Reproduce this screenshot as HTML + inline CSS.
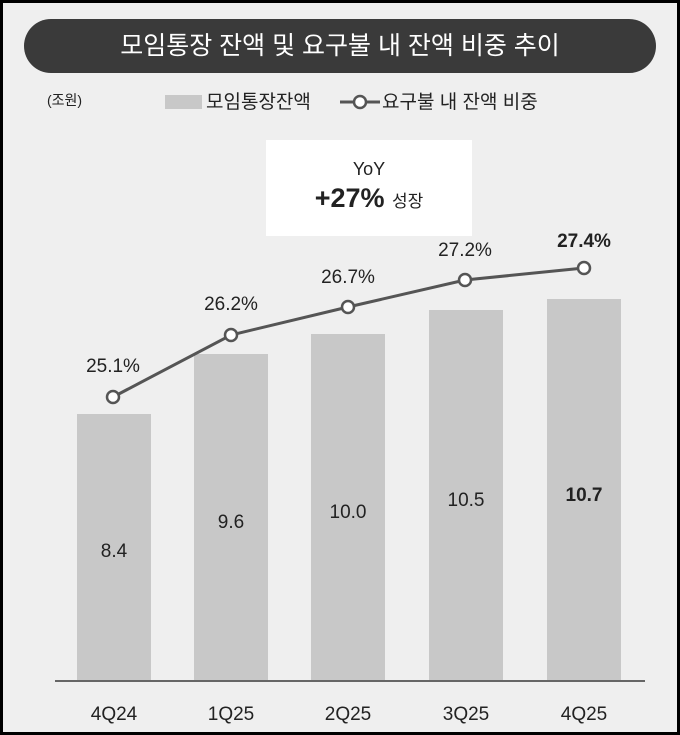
<!DOCTYPE html><html><head><meta charset="utf-8"><style>
body{margin:0;}
.w{position:relative;width:674px;height:729px;border:3px solid #000;background:#efefef;font-family:"Liberation Sans","Noto Sans CJK KR",sans-serif;color:#222;overflow:hidden}
.a{position:absolute;white-space:nowrap}
</style></head><body><div class="w">
<div class="a" style="left:21px;top:16px;width:632px;height:54px;border-radius:27px;background:#3a3a3a;color:#fff;font-size:25px;line-height:54px;text-align:center">모임통장 잔액 및 요구불 내 잔액 비중 추이</div>
<div class="a" style="left:44px;top:87px;font-size:14px">(조원)</div>
<div class="a" style="left:162px;top:92px;width:37px;height:14px;background:#c8c8c8"></div>
<div class="a" style="left:203px;top:84px;font-size:19px">모임통장잔액</div>
<svg class="a" style="left:337px;top:89px" width="40" height="20"><line x1="0" y1="10" x2="40" y2="10" stroke="#555" stroke-width="3"/><circle cx="20" cy="10" r="6" fill="#fff" stroke="#555" stroke-width="2.5"/></svg>
<div class="a" style="left:379px;top:84px;font-size:19px">요구불 내 잔액 비중</div>
<div class="a" style="left:263px;top:137px;width:206px;height:96px;background:#fff"></div>
<div class="a" style="left:263px;top:156px;width:206px;text-align:center;font-size:18px">YoY</div>
<div class="a" style="left:263px;top:180px;width:206px;text-align:center;font-size:27px;font-weight:bold">+27% <span style="font-size:17px;font-weight:normal">성장</span></div>
<svg class="a" style="left:0;top:0" width="674" height="729">
<g fill="#c8c8c8">
<rect x="74" y="411" width="74" height="267"/><rect x="191" y="351" width="74" height="327"/><rect x="308" y="331" width="74" height="347"/><rect x="426" y="307" width="74" height="371"/><rect x="544" y="296" width="74" height="382"/></g>
<line x1="52" y1="678" x2="642" y2="678" stroke="#666" stroke-width="2"/>
<polyline points="110,394 228,332 345,304 462,277 581,265" fill="none" stroke="#555" stroke-width="3"/>
<g fill="#fff" stroke="#555" stroke-width="2.5"><circle cx="110" cy="394" r="6"/><circle cx="228" cy="332" r="6"/><circle cx="345" cy="304" r="6"/><circle cx="462" cy="277" r="6"/><circle cx="581" cy="265" r="6"/></g>
<g font-size="19" text-anchor="middle" fill="#222">
<text x="110" y="369">25.1%</text><text x="228" y="307">26.2%</text><text x="345" y="280">26.7%</text><text x="462" y="253">27.2%</text><text x="581" y="244" font-weight="bold">27.4%</text>
<text x="111" y="554">8.4</text><text x="228" y="525">9.6</text><text x="345" y="515">10.0</text><text x="463" y="503">10.5</text><text x="581" y="498" font-weight="bold">10.7</text>
<text x="111" y="717">4Q24</text><text x="228" y="717">1Q25</text><text x="345" y="717">2Q25</text><text x="463" y="717">3Q25</text><text x="581" y="717">4Q25</text>
</g></svg>
</div></body></html>
